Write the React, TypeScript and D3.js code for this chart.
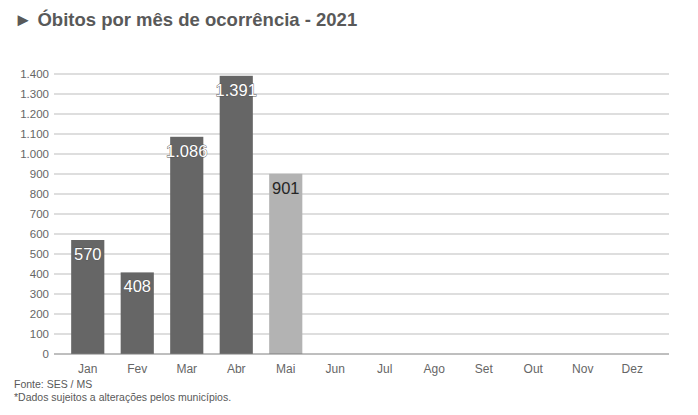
import { useRef, useEffect } from 'react';
import * as d3 from 'd3';

const months = ['Jan', 'Fev', 'Mar', 'Abr', 'Mai', 'Jun', 'Jul', 'Ago', 'Set', 'Out', 'Nov', 'Dez'];
const deaths = [570, 408, 1086, 1391, 901, null, null, null, null, null, null, null];
const partial = [false, false, false, false, true, false, false, false, false, false, false, false];
const yTicks = [0, 100, 200, 300, 400, 500, 600, 700, 800, 900, 1000, 1100, 1200, 1300, 1400];

const fmt = (v: number) => v.toString().replace(/\B(?=(\d{3})+(?!\d))/g, '.');

export default function App() {
  const svgRef = useRef<SVGSVGElement>(null);

  useEffect(() => {
    if (!svgRef.current) return;
    const svg = d3.select(svgRef.current);
    svg.selectAll('*').remove();

    const font = 'Liberation Sans, Arial, sans-serif';
    const x = d3.scaleBand<string>().domain(months).range([63, 657]).paddingInner(0.33).paddingOuter(0.165);
    const y = d3.scaleLinear().domain([0, 1400]).range([354, 74]);

    // Title
    svg.append('text')
      .attr('x', 14)
      .attr('y', 26)
      .attr('fill', '#595959')
      .attr('font-family', font)
      .attr('font-weight', 'bold')
      .attr('font-size', '18.5px')
      .text('► Óbitos por mês de ocorrência - 2021');

    // Grid
    svg.append('g')
      .selectAll('line')
      .data(yTicks.filter((t) => t > 0))
      .join('line')
      .attr('x1', 54)
      .attr('x2', 669)
      .attr('y1', (d) => y(d))
      .attr('y2', (d) => y(d))
      .attr('stroke', '#bdbdbd')
      .attr('stroke-width', 1.2);

    // Y tick labels
    svg.append('g')
      .selectAll('text')
      .data(yTicks)
      .join('text')
      .attr('x', 49)
      .attr('y', (d) => y(d))
      .attr('dy', '0.35em')
      .attr('text-anchor', 'end')
      .attr('fill', '#666666')
      .attr('font-family', font)
      .attr('font-size', '11.5px')
      .text((d) => fmt(d));

    // Bars
    months.forEach((m, i) => {
      const v = deaths[i];
      if (v === null) return;
      svg.append('rect')
        .attr('x', x(m)!)
        .attr('y', y(v))
        .attr('width', x.bandwidth())
        .attr('height', y(0) - y(v))
        .attr('fill', partial[i] ? '#b3b3b3' : '#666666');
    });

    // Baseline
    svg.append('line')
      .attr('x1', 54)
      .attr('x2', 669)
      .attr('y1', y(0))
      .attr('y2', y(0))
      .attr('stroke', '#7f7f7f')
      .attr('stroke-width', 1);

    // Value labels
    months.forEach((m, i) => {
      const v = deaths[i];
      if (v === null) return;
      const t = svg.append('text')
        .attr('x', x(m)! + x.bandwidth() / 2)
        .attr('y', y(v) + 14)
        .attr('dy', '0.35em')
        .attr('text-anchor', 'middle')
        .attr('font-family', font)
        .attr('font-size', '16.5px')
        .text(fmt(v));
      if (partial[i]) {
        t.attr('fill', '#262626');
      } else {
        t.attr('fill', '#ffffff')
          .attr('stroke', '#555555')
          .attr('stroke-width', 0.8)
          .attr('paint-order', 'stroke');
      }
    });

    // X labels
    svg.append('g')
      .selectAll('text')
      .data(months)
      .join('text')
      .attr('x', (d) => x(d)! + x.bandwidth() / 2)
      .attr('y', 369)
      .attr('dy', '0.35em')
      .attr('text-anchor', 'middle')
      .attr('fill', '#666666')
      .attr('font-family', font)
      .attr('font-size', '12px')
      .text((d) => d);

    // Footer
    svg.append('text')
      .attr('x', 14)
      .attr('y', 388)
      .attr('fill', '#595959')
      .attr('font-family', font)
      .attr('font-size', '10.5px')
      .text('Fonte: SES / MS');
    svg.append('text')
      .attr('x', 14)
      .attr('y', 401)
      .attr('fill', '#595959')
      .attr('font-family', font)
      .attr('font-size', '10.5px')
      .text('*Dados sujeitos a alterações pelos municípios.');
  }, []);

  return (
    <svg
      ref={svgRef}
      width={698}
      height={415}
      style={{ position: 'absolute', left: 0, top: 0, background: '#fff' }}
    />
  );
}
